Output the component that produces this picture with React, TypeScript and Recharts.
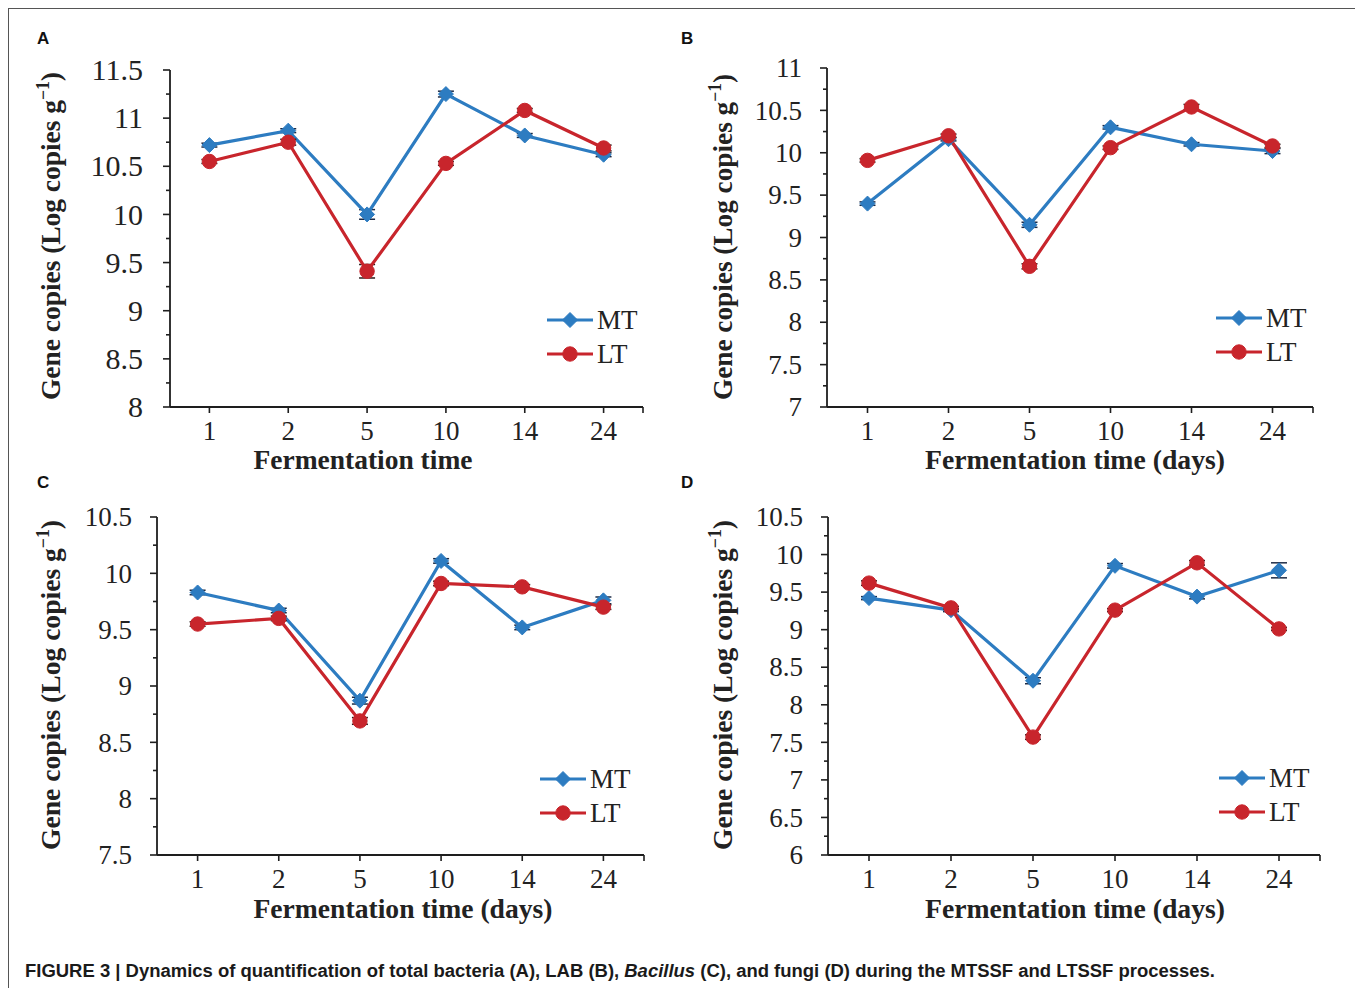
import React from 'react';
import { LineChart, Line, XAxis, YAxis, Legend, ErrorBar } from 'recharts';

// ---------- data ----------
const days = ['1', '2', '5', '10', '14', '24'];

const aMT = [10.72, 10.87, 10.0, 11.25, 10.82, 10.62];
const aLT = [10.55, 10.75, 9.41, 10.53, 11.08, 10.69];
const aMTErr = [0.02, 0.02, 0.05, 0.03, 0.02, 0.02];
const aLTErr = [0.02, 0.03, 0.07, 0.02, 0.02, 0.03];

const bMT = [9.4, 10.16, 9.15, 10.3, 10.1, 10.02];
const bLT = [9.91, 10.2, 8.66, 10.06, 10.54, 10.08];
const bMTErr = [0.02, 0.02, 0.03, 0.02, 0.02, 0.03];
const bLTErr = [0.02, 0.02, 0.03, 0.02, 0.03, 0.02];

const cMT = [9.83, 9.67, 8.87, 10.11, 9.52, 9.76];
const cLT = [9.55, 9.6, 8.69, 9.91, 9.88, 9.7];
const cMTErr = [0.02, 0.02, 0.03, 0.02, 0.02, 0.03];
const cLTErr = [0.02, 0.02, 0.03, 0.02, 0.02, 0.02];

const dMT = [9.42, 9.26, 8.32, 9.85, 9.44, 9.79];
const dLT = [9.62, 9.29, 7.57, 9.26, 9.89, 9.01];
const dMTErr = [0.02, 0.02, 0.04, 0.03, 0.03, 0.1];
const dLTErr = [0.03, 0.02, 0.03, 0.02, 0.03, 0.02];

const yTicksA = [8, 8.5, 9, 9.5, 10, 10.5, 11, 11.5];
const yTicksB = [7, 7.5, 8, 8.5, 9, 9.5, 10, 10.5, 11];
const yTicksC = [7.5, 8, 8.5, 9, 9.5, 10, 10.5];
const yTicksD = [6, 6.5, 7, 7.5, 8, 8.5, 9, 9.5, 10, 10.5];

const build = (mt: number[], lt: number[], mte: number[], lte: number[]) =>
  days.map((d, i) => ({ day: d, MT: mt[i], LT: lt[i], MTe: mte[i], LTe: lte[i] }));

const withMinor = (majors: number[]) => {
  const out: number[] = [];
  majors.forEach((v, i) => {
    out.push(v);
    if (i < majors.length - 1) out.push((v + majors[i + 1]) / 2);
  });
  return out;
};

// ---------- style ----------
const BLUE = '#2D7CC1';
const RED = '#C8252C';
const AXIS = '#1e1e1e';
const TXT = '#222';
const SERIF = '"Liberation Serif", "Times New Roman", serif';
const SANS = '"Liberation Sans", Arial, sans-serif';

const Diamond = (props: any) => {
  const { cx, cy } = props;
  if (cx == null || cy == null) return null;
  const s = 7.5;
  return <path d={`M${cx},${cy - s} L${cx + s},${cy} L${cx},${cy + s} L${cx - s},${cy} Z`} fill={BLUE} stroke={BLUE} strokeWidth={1} />;
};
const Circle = (props: any) => {
  const { cx, cy } = props;
  if (cx == null || cy == null) return null;
  return <circle cx={cx} cy={cy} r={7.2} fill={RED} stroke={RED} strokeWidth={1} />;
};

const YTick = (props: any) => {
  const { x, y, payload, majors, fontSize, gap } = props;
  const isMajor = majors.some((m: number) => Math.abs(m - payload.value) < 1e-6);
  return (
    <g>
      <line x1={x - (isMajor ? 7 : 4)} x2={x} y1={y} y2={y} stroke={AXIS} strokeWidth={1.6} />
      {isMajor && (
        <text x={x - gap} y={y} dy="0.34em" textAnchor="end" fontSize={fontSize} fontFamily={SERIF} fill={TXT}>
          {String(payload.value)}
        </text>
      )}
    </g>
  );
};

const XTick = (props: any) => {
  const { x, y, payload, index, hb, fontSize } = props;
  return (
    <g>
      <line x1={x} x2={x} y1={y} y2={y + 6} stroke={AXIS} strokeWidth={1.6} />
      {index === days.length - 1 && <line x1={x + hb} x2={x + hb} y1={y} y2={y + 6} stroke={AXIS} strokeWidth={1.6} />}
      <text x={x} y={y + 24} dy="0.34em" textAnchor="middle" fontSize={fontSize} fontFamily={SERIF} fill={TXT}>
        {payload.value}
      </text>
    </g>
  );
};

const LegendBox = () => (
  <svg width={100} height={66} style={{ overflow: 'visible', display: 'block' }}>
    <line x1={0} x2={46} y1={15} y2={15} stroke={BLUE} strokeWidth={3.2} />
    <Diamond cx={23} cy={15} />
    <text x={50} y={15} dy="0.34em" fontSize={27} fontFamily={SERIF} fill={TXT}>MT</text>
    <line x1={0} x2={46} y1={49} y2={49} stroke={RED} strokeWidth={3.2} />
    <Circle cx={23} cy={49} />
    <text x={50} y={49} dy="0.34em" fontSize={27} fontFamily={SERIF} fill={TXT}>LT</text>
  </svg>
);

type PanelProps = {
  left: number; top: number; width: number; height: number;
  margin: { top: number; right: number; left: number; bottom: number };
  yWidth: number; xHeight: number; hb: number;
  data: any[]; majors: number[];
  yFont: number; yGap: number; xFont: number;
  yTitleX: number; yTitleCY: number; yTitleLen: number;
  xTitle: string; xTitleX: number; xTitleY: number; xTitleLen: number;
  legLeft: number; legTop: number;
};

const Panel = (p: PanelProps) => {
  const domain = [p.majors[0], p.majors[p.majors.length - 1]];
  return (
    <div style={{ position: 'absolute', left: p.left, top: p.top, width: p.width, height: p.height }}>
      <LineChart width={p.width} height={p.height} data={p.data} margin={p.margin}>
        <XAxis
          dataKey="day"
          type="category"
          padding={{ left: p.hb, right: p.hb }}
          axisLine={{ stroke: AXIS, strokeWidth: 1.8 }}
          tickLine={false}
          tickSize={0}
          tickMargin={0}
          interval={0}
          height={p.xHeight}
          tick={(tp: any) => <XTick {...tp} hb={p.hb} fontSize={p.xFont} />}
          label={{
            content: () => (
              <text x={p.xTitleX} y={p.xTitleY} textAnchor="middle" fontSize={27} fontWeight="bold" fontFamily={SERIF} fill={TXT}
                textLength={p.xTitleLen} lengthAdjust="spacingAndGlyphs">
                {p.xTitle}
              </text>
            ),
          }}
        />
        <YAxis
          type="number"
          domain={domain}
          ticks={withMinor(p.majors)}
          interval={0}
          allowDataOverflow
          width={p.yWidth}
          axisLine={{ stroke: AXIS, strokeWidth: 1.8 }}
          tickLine={false}
          tickSize={0}
          tickMargin={0}
          tick={(tp: any) => <YTick {...tp} majors={p.majors} fontSize={p.yFont} gap={p.yGap} />}
          label={{
            content: () => (
              <text
                x={p.yTitleX}
                y={p.yTitleCY}
                transform={`rotate(-90, ${p.yTitleX}, ${p.yTitleCY})`}
                textAnchor="middle"
                fontSize={28}
                fontWeight="bold"
                fontFamily={SERIF}
                fill={TXT}
                textLength={p.yTitleLen}
                lengthAdjust="spacingAndGlyphs"
              >
                Gene copies (Log copies g
                <tspan dy={-11} fontSize={18}>−1</tspan>
                <tspan dy={11}>)</tspan>
              </text>
            ),
          }}
        />
        <Legend
          layout="vertical"
          align="center"
          verticalAlign="middle"
          content={() => <LegendBox />}
          wrapperStyle={{ position: 'absolute', left: p.legLeft, top: p.legTop, width: 100, height: 66 }}
        />
        <Line dataKey="MT" stroke={BLUE} strokeWidth={3.2} dot={<Diamond />} activeDot={false} isAnimationActive={false} legendType="diamond">
          <ErrorBar dataKey="MTe" width={8} strokeWidth={1.5} stroke="#1d2b45" direction="y" isAnimationActive={false} />
        </Line>
        <Line dataKey="LT" stroke={RED} strokeWidth={3.2} dot={<Circle />} activeDot={false} isAnimationActive={false} legendType="circle">
          <ErrorBar dataKey="LTe" width={8} strokeWidth={1.5} stroke="#2a1a1a" direction="y" isAnimationActive={false} />
        </Line>
      </LineChart>
    </div>
  );
};

const dataA = build(aMT, aLT, aMTErr, aLTErr);
const dataB = build(bMT, bLT, bMTErr, bLTErr);
const dataC = build(cMT, cLT, cMTErr, cLTErr);
const dataD = build(dMT, dLT, dMTErr, dLTErr);

export default function App() {
  return (
    <div style={{ position: 'absolute', left: 0, top: 0, width: 1355, height: 988, background: '#fff', overflow: 'hidden' }}>
      <div style={{ position: 'absolute', left: 8, top: 8, width: 1400, height: 1000, borderTop: '1.5px solid #555', borderLeft: '1.5px solid #555' }} />
      <Panel
        left={0} top={0} width={680} height={480}
        margin={{ top: 70, right: 37, left: 0, bottom: 0 }}
        yWidth={170} xHeight={73} hb={39.4}
        data={dataA} majors={yTicksA}
        yFont={30} yGap={27} xFont={27}
        yTitleX={60} yTitleCY={236} yTitleLen={328}
        xTitle="Fermentation time" xTitleX={363} xTitleY={469} xTitleLen={219}
        legLeft={547} legTop={305}
      />
      <Panel
        left={680} top={0} width={675} height={480}
        margin={{ top: 68, right: 42, left: 0, bottom: 0 }}
        yWidth={147} xHeight={73} hb={40.5}
        data={dataB} majors={yTicksB}
        yFont={27} yGap={25} xFont={27}
        yTitleX={52} yTitleCY={237} yTitleLen={326}
        xTitle="Fermentation time (days)" xTitleX={395} xTitleY={469} xTitleLen={300}
        legLeft={536} legTop={303}
      />
      <Panel
        left={0} top={470} width={680} height={480}
        margin={{ top: 47, right: 36, left: 0, bottom: 0 }}
        yWidth={157} xHeight={95} hb={40.6}
        data={dataC} majors={yTicksC}
        yFont={27} yGap={25} xFont={27}
        yTitleX={60} yTitleCY={215} yTitleLen={330}
        xTitle="Fermentation time (days)" xTitleX={403} xTitleY={448} xTitleLen={299}
        legLeft={540} legTop={294}
      />
      <Panel
        left={680} top={470} width={675} height={480}
        margin={{ top: 47, right: 35, left: 0, bottom: 0 }}
        yWidth={148} xHeight={95} hb={41}
        data={dataD} majors={yTicksD}
        yFont={27} yGap={25} xFont={27}
        yTitleX={52} yTitleCY={215} yTitleLen={330}
        xTitle="Fermentation time (days)" xTitleX={395} xTitleY={448} xTitleLen={300}
        legLeft={539} legTop={293}
      />
      <svg width={1355} height={988} style={{ position: 'absolute', left: 0, top: 0, pointerEvents: 'none' }}>
        <g fontFamily={SANS} fontWeight="bold" fontSize={17} fill="#111">
          <text x={37} y={44}>A</text>
          <text x={681} y={44}>B</text>
          <text x={37} y={488}>C</text>
          <text x={681} y={488}>D</text>
        </g>
        <text x={25} y={977} fontFamily={SANS} fontWeight="bold" fontSize={18} fill="#1a1a1a" textLength={1190} lengthAdjust="spacingAndGlyphs">
          FIGURE 3 | Dynamics of quantification of total bacteria (A), LAB (B), <tspan fontStyle="italic">Bacillus</tspan> (C), and fungi (D) during the MTSSF and LTSSF processes.
        </text>
      </svg>
    </div>
  );
}
